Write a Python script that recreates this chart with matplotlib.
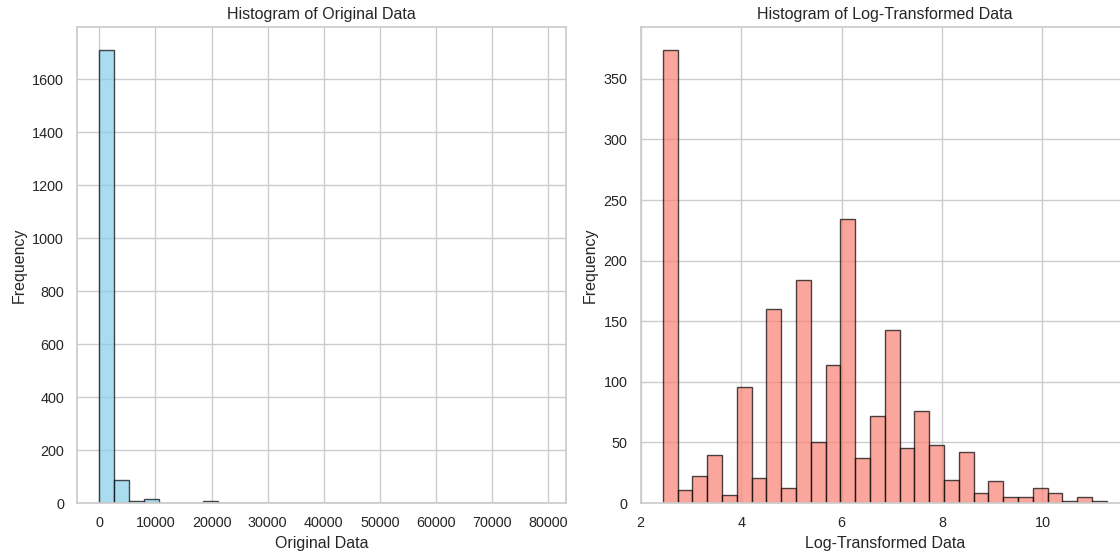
import matplotlib
matplotlib.use("Agg")
import matplotlib.pyplot as plt
import numpy as np
import seaborn as sns

# bin range (30 bins each)
orig_min, orig_max = 11.5, 79200.0
log_min, log_max = 2.44, 11.28

orig_counts = [1712, 88, 6, 14, 1, 1, 0, 8, 0, 1,
               0, 1, 0, 0, 0, 0, 0, 0, 1, 0,
               0, 0, 0, 0, 0, 0, 0, 0, 0, 1]

log_counts = [374, 11, 22, 40, 7, 96, 21, 160, 12, 184,
              50, 114, 234, 37, 72, 143, 45, 76, 48, 19,
              42, 8, 18, 5, 5, 12, 8, 2, 5, 2]

sns.set_theme(style="whitegrid")
plt.rcParams["font.family"] = ["Liberation Sans", "DejaVu Sans"]

fig = plt.figure(figsize=(11.2, 5.54), dpi=100)
ax1 = fig.add_axes([0.069, 0.092, 0.436, 0.859])
ax2 = fig.add_axes([0.572, 0.092, 0.436, 0.859])


def draw_hist(ax, lo, hi, counts, color):
    edges = np.linspace(lo, hi, len(counts) + 1)
    centers = (edges[:-1] + edges[1:]) / 2
    ax.hist(centers, bins=edges, weights=counts, color=color,
            edgecolor="black", alpha=0.7)


draw_hist(ax1, orig_min, orig_max, orig_counts, "skyblue")
ax1.set_title("Histogram of Original Data", fontsize=11.5)
ax1.set_xlabel("Original Data", fontsize=11.5)
ax1.set_ylabel("Frequency", fontsize=11.5)

draw_hist(ax2, log_min, log_max, log_counts, "salmon")
ax2.set_title("Histogram of Log-Transformed Data", fontsize=11.5)
ax2.set_xlabel("Log-Transformed Data", fontsize=11.5)
ax2.set_ylabel("Frequency", fontsize=11.5)

for ax in (ax1, ax2):
    ax.tick_params(labelsize=10.4)

fig.savefig("out.png", dpi=100)
